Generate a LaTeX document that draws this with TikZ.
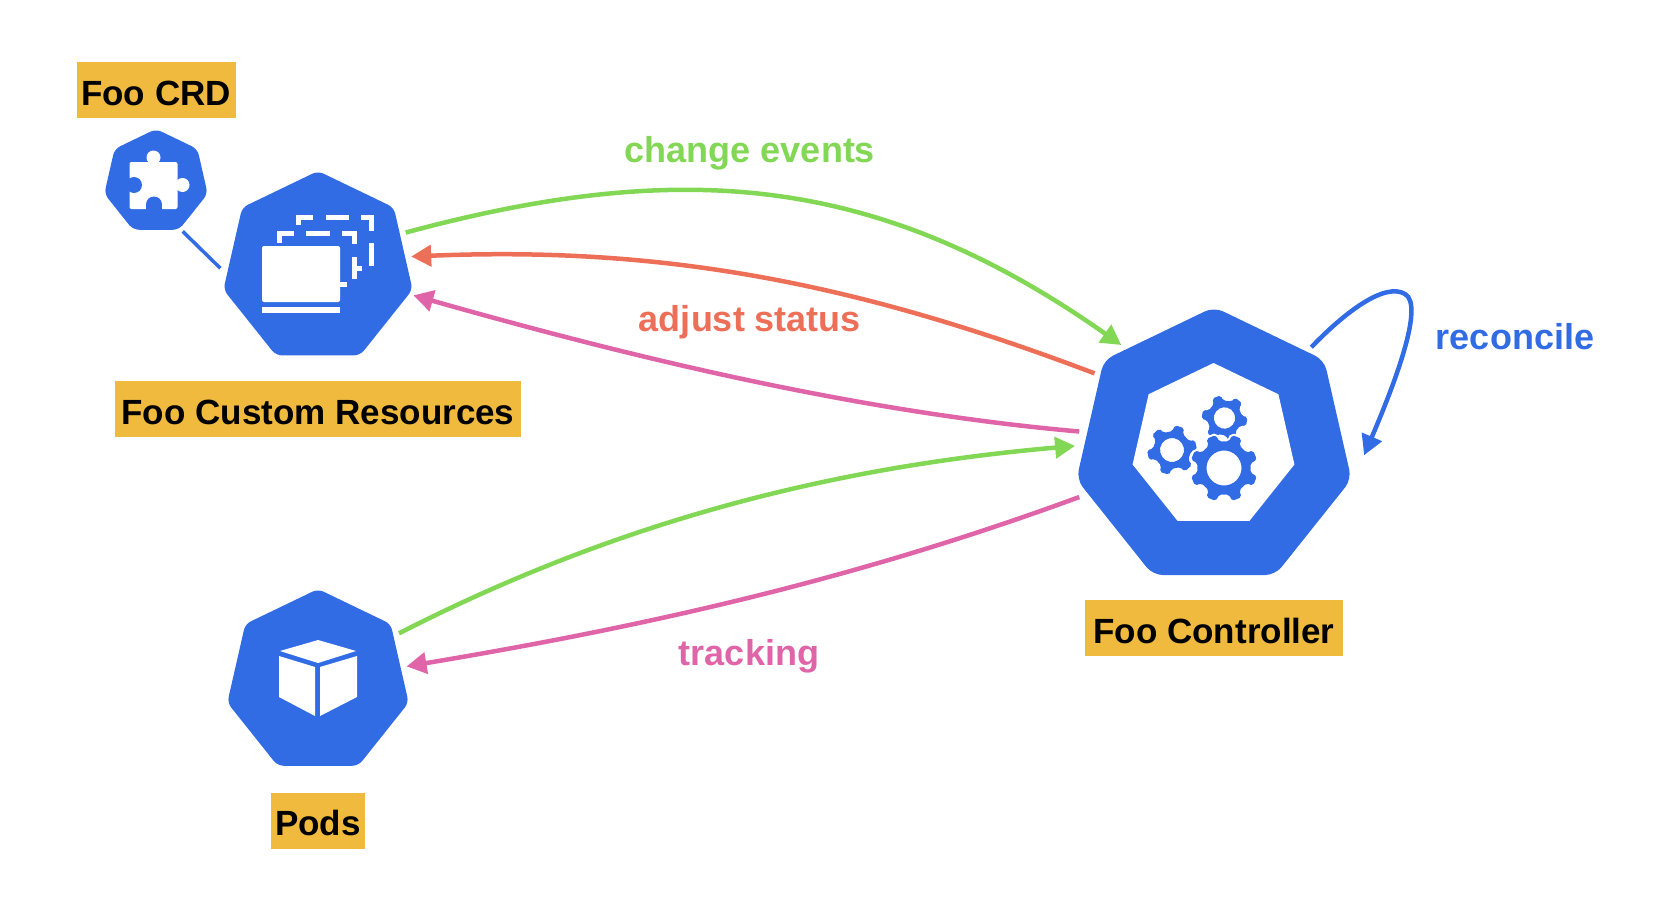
\documentclass[tikz,border=0pt]{standalone}
\usepackage{fontspec}
\usepackage{xcolor}
\usepackage{tikz}
\usetikzlibrary{arrows.meta,positioning,shapes.geometric}
\setmainfont{Liberation Sans}
\definecolor{fooblue}{HTML}{326CE5}
\definecolor{foogreen}{HTML}{82D755}
\definecolor{foored}{HTML}{EE6F57}
\definecolor{foopink}{HTML}{DF65A8}
\definecolor{fooyellow}{HTML}{EFBA3D}

\newcommand{\foogear}[8]{%
\begin{scope}[shift={(#1,#2)},rotate=#6]
\pgfmathsetmacro{\gearstep}{360/#3}
\fill[fooblue,even odd rule,rounded corners=2pt,#8] ({\gearstep/2}:#4pt)
  \foreach \k [evaluate=\k as \a using \k*\gearstep] in {1,...,#3} {
    -- ({\a-.27*\gearstep}:#4pt) -- ({\a-.19*\gearstep}:#5pt) -- ({\a+.19*\gearstep}:#5pt) -- ({\a+.27*\gearstep}:#4pt)
  } -- cycle (0,0) circle[radius=#7pt];
\end{scope}}

\begin{document}
\begin{tikzpicture}[x=1pt,y=1pt,->,>={Triangle[length=20pt,width=21pt]},node distance=20pt,line width=4.5pt]
\tikzstyle{heptagon}=[regular polygon,regular polygon sides=7,fill=fooblue,inner sep=0pt,outer sep=6pt,rounded corners=6pt]
\tikzstyle{foolabel}=[fill=fooyellow,text=black,inner sep=0pt,outer sep=0pt,minimum height=56pt,text height=30pt,text depth=0pt,font=\fontsize{35}{40}\selectfont\bfseries]
\tikzstyle{linklabel}=[anchor=base,inner sep=0pt,font=\fontsize{36}{40}\selectfont\bfseries]
\useasboundingbox (0,0) rectangle (1674,-918);

\node[heptagon,minimum size=106pt] (foocrd) at (156,-182) {};
\node[heptagon,minimum size=194pt] (foocr) at (318,-268) {};
\node[heptagon,minimum size=186pt] (foopods) at (318,-682) {};
\node[heptagon,minimum size=282pt,rounded corners=10pt] (foocontroller) at (1214,-448) {};
\node[regular polygon,regular polygon sides=7,fill=white,inner sep=0pt,minimum size=166pt] (gearhole) at (1213.5,-446) {};

\node[foolabel,minimum width=159pt,above=4pt of foocrd] (crdlabel) {Foo CRD};
\node[foolabel,minimum width=406pt,below=of foocr] (crlabel) {Foo Custom Resources};
\node[foolabel,minimum width=94pt,below=21pt of foopods] (podslabel) {Pods};
\node[foolabel,minimum width=258pt,below=19pt of foocontroller] (controllerlabel) {Foo Controller};

\node[linklabel,text=foogreen] (changelabel) at (750,-162) {change events};
\node[linklabel,text=foored] (statuslabel) at (750,-331) {adjust status};
\node[linklabel,text=foopink] (trackinglabel) at (749,-665) {tracking};
\node[linklabel,text=fooblue] (reconcilelabel) at (1515,-349) {reconcile};

\draw[-,fooblue,line width=3.5pt,shorten <=-2pt,shorten >=2pt] (foocrd.-61) -- (foocr.181);
\draw[foogreen] (foocr.22) .. controls (685,-157) and (881,-176) .. (foocontroller.132);
\draw[foored] (foocontroller.148) .. controls (854,-282) and (661,-246) .. (foocr.7);
\draw[foopink,shorten <=2pt,shorten >=-2pt] (foocontroller.173) .. controls (858,-412) and (634,-358) .. (foocr.-16);
\draw[foogreen,shorten >=3pt] (foopods.31) .. controls (628,-516) and (845,-466) .. (foocontroller.179);
\draw[foopink,shorten <=3pt] (foocontroller.200) .. controls (848,-582) and (636,-628) .. (foopods.10);
\draw[fooblue] (foocontroller.46) .. controls (1345,-312) and (1385,-282) .. (1405,-294) .. controls (1425,-305) and (1394,-385) .. ([xshift=12pt]foocontroller.-3);

\begin{scope}[-,white]
\fill (279,-656) -- (315,-667) -- (315,-716) -- (279,-697) -- cycle;
\fill (320,-667) -- (357,-656) -- (357,-697) -- (320,-716) -- cycle;
\fill (318,-640) -- (356,-651) -- (318,-663) -- (280,-651) -- cycle;

\fill[rounded corners=2pt] (262,-246) rectangle (340,-302);
\fill (262,-307) rectangle (340,-313);
\draw[line width=5pt] (340,-284) -- (347,-284);
\draw[line width=5pt] (279,-243) -- (279,-233) -- (294,-233);
\draw[line width=5pt] (306,-233) -- (330,-233);
\draw[line width=5pt] (342,-233) -- (354,-233) -- (354,-244);
\draw[line width=5pt] (354,-257) -- (354,-279);
\draw[line width=5pt] (354,-268) -- (362,-268);
\draw[line width=5pt] (298,-225) -- (298,-217) -- (313,-217);
\draw[line width=5pt] (326,-217) -- (349,-217);
\draw[line width=5pt] (361,-217) -- (371,-217) -- (371,-231);
\draw[line width=5pt] (371,-243) -- (371,-266);

\fill[rounded corners=2pt] (129.5,-162) rectangle (177.5,-209);
\fill (153.5,-157.5) circle[radius=7pt];
\fill (182.5,-185) circle[radius=7pt];
\fill[fooblue] (134,-185) circle[radius=8pt];
\fill[fooblue] (154,-204.5) circle[radius=8pt];
\fill[fooblue] (146,-204.5) rectangle (162,-212);
\end{scope}

\begin{scope}[-]
\foogear{1172}{-450}{6}{19}{25}{12}{12}{}
\foogear{1224.5}{-418}{6}{17.5}{23}{51}{10.7}{}
\foogear{1224}{-468}{8}{27}{34}{22.5}{17.5}{preaction={draw=white,line width=4pt}}
\end{scope}
\end{tikzpicture}
\end{document}
